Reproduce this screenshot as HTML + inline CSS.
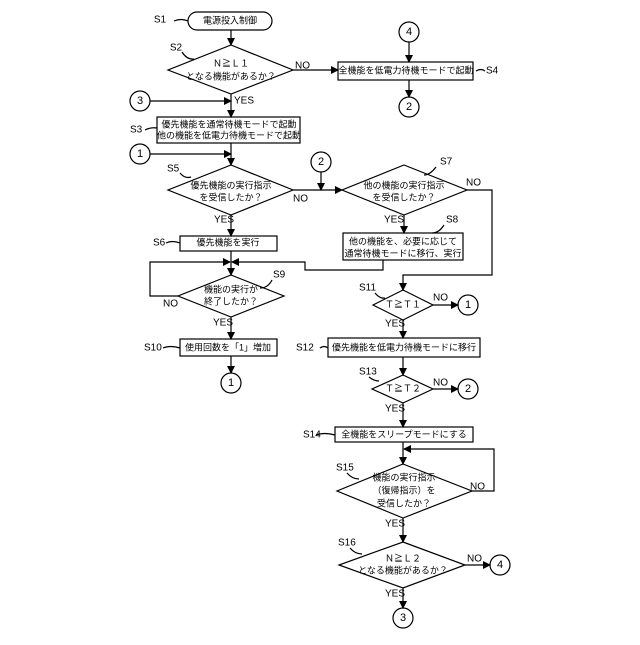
<!DOCTYPE html>
<html><head><meta charset="utf-8"><style>
html,body{margin:0;padding:0;background:#fff}
svg text{font-family:"Liberation Sans","Noto Sans CJK JP",sans-serif;fill:#000}
.t{font-size:9px;text-anchor:middle;dominant-baseline:middle}
.l{font-size:10px;dominant-baseline:middle}
</style></head><body>
<svg width="640" height="640" viewBox="0 0 640 640" xmlns="http://www.w3.org/2000/svg">
<defs><marker id="a" markerWidth="8" markerHeight="8" refX="7" refY="4" orient="auto" markerUnits="userSpaceOnUse"><path d="M0,0 L8,4 L0,8 z" fill="#000"/></marker></defs>
<g stroke="#000" stroke-width="1.2" fill="none">
<!-- S1 -->
<rect x="188" y="12" width="84" height="18" rx="9"/>
<line x1="231" y1="30" x2="231" y2="45" marker-end="url(#a)"/>
<polygon points="231,45 293,70 231,94 168,70" fill="#fff"/>
<line x1="293" y1="70" x2="338" y2="70" marker-end="url(#a)"/>
<rect x="338" y="62" width="135" height="18"/>
<circle cx="409" cy="32" r="10"/>
<line x1="409" y1="42" x2="409" y2="62" marker-end="url(#a)"/>
<line x1="409" y1="80" x2="409" y2="97" marker-end="url(#a)"/>
<circle cx="409" cy="107" r="10"/>
<circle cx="140" cy="101" r="10"/>
<line x1="150" y1="101" x2="231" y2="101" marker-end="url(#a)"/>
<line x1="231" y1="94" x2="231" y2="117" marker-end="url(#a)"/>
<rect x="157" y="117" width="143" height="26"/>
<circle cx="140" cy="154" r="10"/>
<line x1="150" y1="154" x2="231" y2="154" marker-end="url(#a)"/>
<line x1="231" y1="143" x2="231" y2="165" marker-end="url(#a)"/>
<!-- S5 -->
<polygon points="231,165 293,190 231,215 168,190"/>
<line x1="293" y1="190" x2="342" y2="190" marker-end="url(#a)"/>
<circle cx="321" cy="162" r="10"/>
<line x1="321" y1="172" x2="321" y2="190" marker-end="url(#a)"/>
<polygon points="404,165 467,190 404,215 342,190"/>
<polyline points="467,190 492,190 492,275 403,275 403,290" marker-end="url(#a)"/>
<line x1="404" y1="215" x2="404" y2="233" marker-end="url(#a)"/>
<rect x="343" y="233" width="120" height="27"/>
<polyline points="383,260 383,270 305,270 305,262 232,262" marker-end="url(#a)"/>
<line x1="231" y1="215" x2="231" y2="236" marker-end="url(#a)"/>
<rect x="180" y="236" width="97" height="15"/>
<line x1="231" y1="251" x2="231" y2="275" marker-end="url(#a)"/>
<polyline points="178,296 150,296 150,262 230,262" marker-end="url(#a)"/>
<polygon points="231,275 284,296 231,317 178,296"/>
<line x1="231" y1="317" x2="231" y2="339" marker-end="url(#a)"/>
<rect x="180" y="339" width="97" height="17"/>
<line x1="231" y1="356" x2="231" y2="373" marker-end="url(#a)"/>
<circle cx="231" cy="383" r="10"/>
<!-- S11 -->
<polygon points="403,290 433,305 403,320 373,305"/>
<line x1="433" y1="305" x2="458" y2="305" marker-end="url(#a)"/>
<circle cx="468" cy="305" r="10"/>
<line x1="403" y1="320" x2="403" y2="338" marker-end="url(#a)"/>
<rect x="328" y="338" width="152" height="19"/>
<line x1="403" y1="357" x2="403" y2="375" marker-end="url(#a)"/>
<polygon points="403,375 433,389 403,403 372,389"/>
<line x1="433" y1="389" x2="458" y2="389" marker-end="url(#a)"/>
<circle cx="468" cy="389" r="10"/>
<line x1="403" y1="403" x2="403" y2="427" marker-end="url(#a)"/>
<rect x="335" y="427" width="138" height="15"/>
<line x1="403" y1="442" x2="403" y2="464" marker-end="url(#a)"/>
<polyline points="472,491 494,491 494,449 404,449" marker-end="url(#a)"/>
<polygon points="403,464 472,491 403,518 337,491"/>
<line x1="403" y1="518" x2="403" y2="542" marker-end="url(#a)"/>
<polygon points="403,542 465,565 403,588 339,565"/>
<line x1="465" y1="565" x2="490" y2="565" marker-end="url(#a)"/>
<circle cx="500" cy="565" r="10"/>
<line x1="403" y1="588" x2="403" y2="608" marker-end="url(#a)"/>
<circle cx="403" cy="618" r="10"/>
<!-- leaders -->
<path d="M174,21 q7,-3 14,0"/>
<path d="M182,52 q5,8 12,7"/>
<path d="M476,71 q5,-3 9,0"/>
<path d="M145,130 q6,-3 12,-2"/>
<path d="M180,173 q5,6 11,4"/>
<path d="M166,243 q6,-3 14,0"/>
<path d="M436,167 q-6,8 -12,8"/>
<path d="M444,225 q-5,8 -12,8"/>
<path d="M272,280 q-4,8 -12,8"/>
<path d="M163,348 q7,-3 17,0"/>
<path d="M375,293 q5,6 10,5"/>
<path d="M320,348 q4,-3 8,0"/>
<path d="M369,377 q5,4 10,4"/>
<path d="M316,435 q8,-3 19,0"/>
<path d="M347,473 q5,6 12,6"/>
<path d="M350,548 q5,6 12,6"/>
</g>
<g>
<text class="t" x="230" y="21">電源投入制御</text>
<text class="l" x="160" y="20" text-anchor="middle">S1</text>
<text class="l" x="176" y="48" text-anchor="middle">S2</text>
<text class="t" x="231" y="64">Ｎ≧Ｌ１</text>
<text class="t" x="231" y="77">となる機能があるか？</text>
<text class="l" x="295" y="66">NO</text>
<text class="t" x="406" y="71">全機能を低電力待機モードで起動</text>
<text class="l" x="486" y="71">S4</text>
<text class="t" x="409" y="32" style="font-size:11px">4</text>
<text class="t" x="409" y="107" style="font-size:11px">2</text>
<text class="t" x="140" y="101" style="font-size:11px">3</text>
<text class="t" x="140" y="154" style="font-size:11px">1</text>
<text class="l" x="234" y="101">YES</text>
<text class="t" x="229" y="125">優先機能を通常待機モードで起動</text>
<text class="t" x="229" y="136">他の機能を低電力待機モードで起動</text>
<text class="l" x="130" y="130">S3</text>
<text class="l" x="167" y="169">S5</text>
<text class="t" x="231" y="186">優先機能の実行指示</text>
<text class="t" x="231" y="198">を受信したか？</text>
<text class="l" x="293" y="199">NO</text>
<text class="t" x="321" y="162" style="font-size:11px">2</text>
<text class="l" x="440" y="162">S7</text>
<text class="t" x="404" y="186">他の機能の実行指示</text>
<text class="t" x="404" y="198">を受信したか？</text>
<text class="l" x="466" y="183">NO</text>
<text class="l" x="384" y="220">YES</text>
<text class="l" x="446" y="220">S8</text>
<text class="t" x="403" y="242">他の機能を、必要に応じて</text>
<text class="t" x="403" y="254">通常待機モードに移行、実行</text>
<text class="l" x="214" y="220">YES</text>
<text class="l" x="153" y="243">S6</text>
<text class="t" x="228" y="243">優先機能を実行</text>
<text class="l" x="273" y="275">S9</text>
<text class="t" x="231" y="290">機能の実行が</text>
<text class="t" x="231" y="302">終了したか？</text>
<text class="l" x="163" y="304">NO</text>
<text class="l" x="213" y="323">YES</text>
<text class="l" x="144" y="348">S10</text>
<text class="t" x="228" y="348">使用回数を「1」増加</text>
<text class="t" x="231" y="383" style="font-size:11px">1</text>
<text class="l" x="359" y="288">S11</text>
<text class="t" x="403" y="305">Ｔ≧Ｔ１</text>
<text class="l" x="433" y="298">NO</text>
<text class="t" x="468" y="305" style="font-size:11px">1</text>
<text class="l" x="385" y="324">YES</text>
<text class="l" x="296" y="348">S12</text>
<text class="t" x="404" y="348">優先機能を低電力待機モードに移行</text>
<text class="l" x="359" y="372">S13</text>
<text class="t" x="403" y="389">Ｔ≧Ｔ２</text>
<text class="l" x="433" y="383">NO</text>
<text class="t" x="468" y="389" style="font-size:11px">2</text>
<text class="l" x="385" y="409">YES</text>
<text class="l" x="303" y="435">S14</text>
<text class="t" x="404" y="435">全機能をスリープモードにする</text>
<text class="l" x="336" y="468">S15</text>
<text class="t" x="404" y="478">機能の実行指示</text>
<text class="t" x="404" y="491">（復帰指示）を</text>
<text class="t" x="404" y="504">受信したか？</text>
<text class="l" x="470" y="487">NO</text>
<text class="l" x="385" y="524">YES</text>
<text class="l" x="338" y="543">S16</text>
<text class="t" x="403" y="559">Ｎ≧Ｌ２</text>
<text class="t" x="403" y="571">となる機能があるか？</text>
<text class="l" x="467" y="559">NO</text>
<text class="t" x="500" y="565" style="font-size:11px">4</text>
<text class="l" x="385" y="594">YES</text>
<text class="t" x="403" y="618" style="font-size:11px">3</text>
</g>
</svg>
</body></html>
